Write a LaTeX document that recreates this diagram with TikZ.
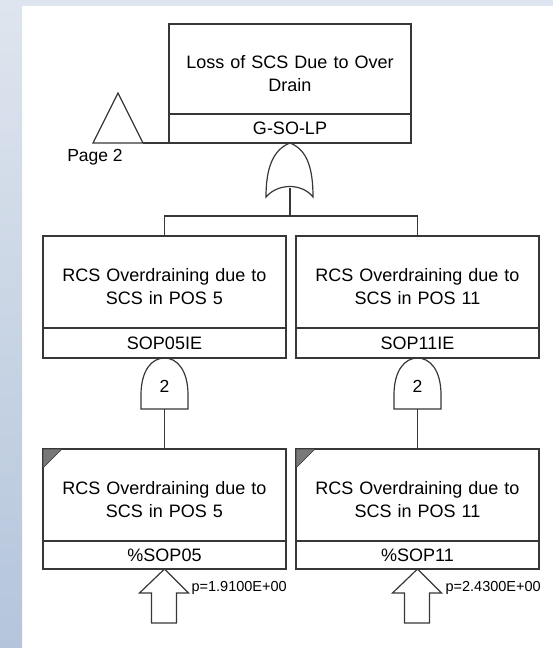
\documentclass[tikz,border=0pt]{standalone}
\usepackage{fontspec}
\setmainfont{Liberation Sans}
\usetikzlibrary{positioning}

\definecolor{edge}{RGB}{55,55,55}
\definecolor{stripTop}{RGB}{222,229,238}
\definecolor{stripBot}{RGB}{180,197,219}
\definecolor{corner}{RGB}{120,120,120}

\begin{document}
\begin{tikzpicture}[x=1pt, y=-1pt, color=edge, line width=1.2pt,
	descbox/.style={draw, inner sep=0pt, outer sep=0pt, text width=243pt, align=center,
		minimum height=92pt, text=black, font=\fontsize{18}{23}\selectfont,
		execute at begin node={\rule{0pt}{22pt}}},
	idbox/.style={draw, inner sep=0pt, outer sep=0pt, minimum width=243pt, minimum height=30pt,
		text=black, font=\fontsize{18}{20}\selectfont},
	tag/.style={text=black, inner sep=0pt, font=\fontsize{17.5}{20}\selectfont},
	plabel/.style={text=black, inner sep=0pt, anchor=west, font=\fontsize{14.5}{16}\selectfont}]

	% page background
	\shade[top color=stripTop, bottom color=stripBot] (0,0) rectangle (22,648);
	\fill[stripTop] (22,0) rectangle (553,6);
	\useasboundingbox (0,0) rectangle (553,648);

	% top event
	\node[descbox, text width=242pt, minimum height=90pt] (top) at (290,69) {Loss of SCS Due to Over\\Drain};
	\node[idbox, minimum width=242pt, minimum height=29pt, below=0pt of top] (topid) {G-SO-LP};

	\coordinate (xfer) at (143,143);
	\draw (xfer) -- (118,93) -- (93,143) -- cycle;
	\draw (xfer) -- (topid.south west);
	\node[tag] (page) at (95,157) {Page 2};

	% or gate
	\draw (290,143) .. controls (272,150) and (266,170) .. (266,197)
		.. controls (278,183) and (302,183) .. (313,197)
		.. controls (313,170) and (308,150) .. (290,143);
	\coordinate (orout) at (290,188);
	\coordinate (split) at (290,216);

	% second level
	\node[descbox] (l1) at (164.5,282) {RCS Overdraining due to\\SCS in POS 5};
	\node[idbox, below=0pt of l1] (l1id) {SOP05IE};
	\node[descbox] (r1) at (417.5,282) {RCS Overdraining due to\\SCS in POS 11};
	\node[idbox, below=0pt of r1] (r1id) {SOP11IE};

	\draw (orout) -- (split);
	\draw (l1.north) |- (split) -| (r1.north);

	% 2-of-n gates
	\draw (141,409) -- (141,395) .. controls (141,370) and (152,358) .. (164.5,358)
		.. controls (177,358) and (188,370) .. (188,395) -- (188,409) -- cycle;
	\node[tag] (lvote) at (164.5,386) {2};
	\coordinate (lgout) at (164.5,409);
	\draw (394,409) -- (394,395) .. controls (394,370) and (405,358) .. (417.5,358)
		.. controls (430,358) and (441,370) .. (441,395) -- (441,409) -- cycle;
	\node[tag] (rvote) at (417.5,386) {2};
	\coordinate (rgout) at (417.5,409);

	% basic events
	\node[descbox] (l2) at (164.5,495) {RCS Overdraining due to\\SCS in POS 5};
	\node[idbox, minimum height=28pt, below=0pt of l2] (l2id) {\%SOP05};
	\node[descbox] (r2) at (417.5,495) {RCS Overdraining due to\\SCS in POS 11};
	\node[idbox, minimum height=28pt, below=0pt of r2] (r2id) {\%SOP11};

	\draw (lgout) -- (l2.north);
	\draw (rgout) -- (r2.north);

	\filldraw[fill=corner, line width=0.6pt] (l2.north west) -- ++(19,0) -- ++(-19,19) -- cycle;
	\filldraw[fill=corner, line width=0.6pt] (r2.north west) -- ++(19,0) -- ++(-19,19) -- cycle;

	% input arrows
	\draw (l2id.south) -- ++(24,24) -- ++(-12,0) -- ++(0,30) -- ++(-25,0) -- ++(0,-30) -- ++(-12,0) -- cycle;
	\draw (r2id.south) -- ++(24,24) -- ++(-12,0) -- ++(0,30) -- ++(-25,0) -- ++(0,-30) -- ++(-12,0) -- cycle;
	\node[plabel] (lp) at (191,588) {p=1.9100E+00};
	\node[plabel] (rp) at (445,588) {p=2.4300E+00};
\end{tikzpicture}
\end{document}
